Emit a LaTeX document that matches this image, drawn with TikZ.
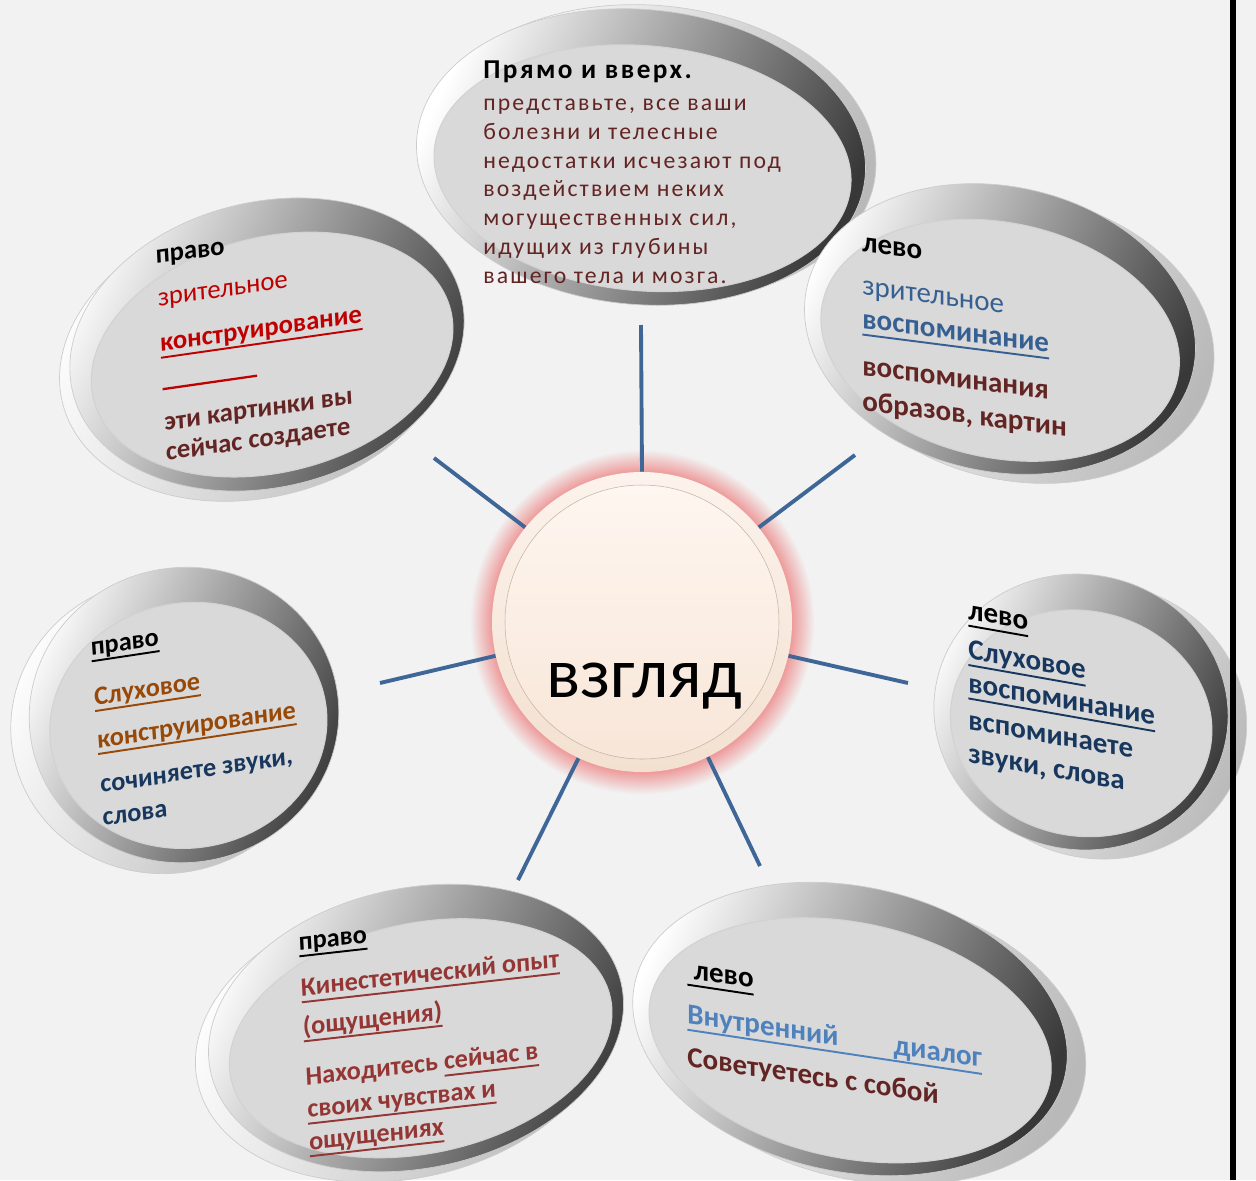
\documentclass[tikz,border=0pt]{standalone}
\usepackage{fontspec}
\setmainfont{Carlito}
\newfontfamily\wideFont[LetterSpace=9]{Carlito}
\usepackage{xcolor}
\usepackage{tikz}
\usetikzlibrary{positioning, arrows.meta, shapes.geometric}
\definecolor{gBack}{HTML}{F2F2F2}
\definecolor{gSpoke}{HTML}{3E6697}
\definecolor{gDisc}{HTML}{D9D9D9}
\definecolor{gRimDark}{HTML}{383838}
\definecolor{gGlow}{HTML}{EE9C9C}
\definecolor{gCream}{HTML}{F3E0D0}
\definecolor{gCreamHi}{HTML}{FCF3EC}
\definecolor{gPeach}{HTML}{F8E6D8}
\definecolor{gPeachHi}{HTML}{FEF6F0}
\definecolor{tRed}{HTML}{C00000}
\definecolor{tWine}{HTML}{632523}
\definecolor{tBlue}{HTML}{366092}
\definecolor{tSky}{HTML}{4F81BD}
\definecolor{tNavy}{HTML}{17375E}
\definecolor{tRust}{HTML}{984807}
\definecolor{tBrick}{HTML}{943634}
\newcommand\tightLines{\lineskiplimit-20pt\relax}
\newcommand\uLine[1]{\leavevmode\vtop{\hbox{\vphantom{р}#1}\kern0.5pt\hrule height 1.1pt}}
\pgfdeclareradialshading{gazeGlow}{\pgfpoint{0cm}{0cm}}{color(0bp)=(gGlow); color(21.8bp)=(gGlow); color(25bp)=(gBack); color(50bp)=(gBack)}

\begin{document}
\begin{tikzpicture}[
      spoke/.style={gSpoke, line width=2.2pt},
      rim/.style={top color=white, middle color=white!96!black, bottom color=gRimDark, shading angle=65,
        draw=gray!40, line width=0.4pt},
      backrim/.style={top color=white, middle color=white, bottom color=gray!55, shading angle=65,
        draw=gray!40, line width=0.4pt},
      disc/.style={fill=gDisc, draw=gray!35, line width=0.6pt},
      gaze/.style={circle, minimum size=6cm, inner sep=0pt, top color=gCreamHi, bottom color=gCream},
      note/.style={align=left, inner sep=0pt, anchor=north west},
      small/.style={font={\fontsize{15.2}{17}\selectfont\bfseries\tightLines}},
      large/.style={font={\fontsize{16.5}{19}\selectfont\bfseries\tightLines}}]
  \useasboundingbox (-12.84,-11.16) rectangle (12.28,12.44);
  \fill[gBack] (-12.84,-11.16) rectangle (12.28,12.44);
  % bubbles: x / y / angle / a / b / offset of the back copy
  \foreach \x/\y/\r/\a/\b/\dx/\dy in {-0.02/9.3/-5/4.5/2.95/0.2/0.1, -7.5/5.55/14/4.0/2.85/-0.25/-0.15,
      7.16/5.86/-12/3.95/2.85/0.4/-0.1, -9.16/-1.86/10/3.1/2.95/-0.4/-0.15, 8.78/-1.8/-12/2.95/2.75/0.4/-0.1,
      -4.52/-8.12/12/4.2/2.8/-0.3/-0.15, 4.16/-8.14/-12/4.4/2.85/0.4/-0.1}{
    \begin{scope}[shift={(\x,\y)}, rotate=\r]
      \shade[backrim] (\dx,\dy) ellipse [x radius=\a, y radius=\b];
      \shade[rim] (0,0) ellipse [x radius=\a, y radius=\b];
      \fill[disc] (0.05,-0.22) ellipse [x radius=\a-0.32, y radius=\b-0.5];
    \end{scope}
  }
  % centre
  \shade[shading=gazeGlow] (0,0) circle (3.45);
  \node[gaze] (gaze) at (0,0) {};
  \shade[top color=gPeachHi, bottom color=gPeach, draw=gCream!80!black, line width=0.3pt] (gaze.center) circle (2.74);
  \node[font=\fontsize{40.5}{42}\selectfont, anchor=base] (gazeWord) at (0.05,-1.5) {взгляд};
  \coordinate (tipUp) at (-0.02,5.94);
  \coordinate (tipUR) at (4.26,3.34);
  \coordinate (tipR) at (5.32,-1.22);
  \coordinate (tipLR) at (2.36,-4.88);
  \coordinate (tipLL) at (-2.48,-5.16);
  \coordinate (tipL) at (-5.24,-1.22);
  \coordinate (tipUL) at (-4.16,3.28);
  \draw[spoke] (gaze.90) -- (tipUp);
  \draw[spoke] (gaze.39) -- (tipUR);
  \draw[spoke] (gaze.-13) -- (tipR);
  \draw[spoke] (gaze.-64) -- (tipLR);
  \draw[spoke] (gaze.-115) -- (tipLL);
  \draw[spoke] (gaze.193) -- (tipL);
  \draw[spoke] (gaze.141) -- (tipUL);
  % texts
  \node[note, text=tWine, font=\wideFont\fontsize{13.5}{16.4}\selectfont] (upText) at (-3.18,11.23)
    {\textcolor{black}{\bfseries\fontsize{15.5}{16.4}\selectfont Прямо и вверх.}\\[1.8pt]
     представьте, все ваши\\болезни и телесные\\недостатки исчезают под\\воздействием неких\\
     могущественных сил,\\идущих из глубины\\вашего тела и мозга.};
  \node[note, small, rotate=3, yslant=0.09] (visConstr) at (-9.74,7.43)
    {право\\[7pt]
     {\color{tRed}\mdseries зрительное}\\[9pt]
     {\color{tRed}\uLine{конструирование}}\\[5pt]
     {\color{tRed}\rule{1.9cm}{1.3pt}}\\[6pt]
     {\color{tWine}эти картинки вы}\\
     {\color{tWine}сейчас создаете}};
  \node[note, large, yslant=-0.128] (visRecall) at (4.4,7.7)
    {лево\\[5.5pt]
     {\color{tBlue}\mdseries зрительное}\\
     {\color{tBlue}\uLine{воспоминание}}\\[7.7pt]
     {\color{tWine}воспоминания}\\[1pt]
     {\color{tWine}образов, картин}};
  \node[note, font={\fontsize{15}{18.8}\selectfont\bfseries\tightLines}, rotate=4, yslant=0.08] (audConstr) at (-11.04,-0.4)
    {\uLine{право}\\[9.6pt]
     {\color{tRust}\uLine{Слуховое}}\\[5.7pt]
     {\color{tRust}\uLine{конструирование}}\\[6.8pt]
     {\color{tNavy}сочиняете звуки,}\\
     {\color{tNavy}слова}};
  \node[note, large, yslant=-0.176, text=tNavy] (audRecall) at (6.52,0.35)
    {\textcolor{black}{\uLine{лево}}\\[3.4pt]
     \uLine{Слуховое}\\
     \uLine{воспоминание}\\[2.2pt]
     вспоминаете\\
     звуки, слова};
  \node[note, font={\fontsize{15}{18.5}\selectfont\bfseries\tightLines}, rotate=3, yslant=0.06, text=tBrick] (kinFeel) at (-6.88,-6.3)
    {\textcolor{black}{\uLine{право}}\\[7.7pt]
     \uLine{Кинестетический опыт}\\[3.7pt]
     \uLine{(ощущения)}\\[10pt]
     Находитесь \uLine{сейчас в}\\
     \uLine{своих чувствах и}\\
     \uLine{ощущениях}};
  \node[note, large, yslant=-0.15] (innerTalk) at (0.9,-6.83)
    {\uLine{\ лево}\\[6.6pt]
     {\color{tSky}\uLine{Внутренний\hspace{1.1cm}диалог}}\\[5.5pt]
     {\color{tWine}Советуетесь с собой}};
  \fill[black] (11.76,-11.16) rectangle (11.88,12.44);
\end{tikzpicture}
\end{document}
